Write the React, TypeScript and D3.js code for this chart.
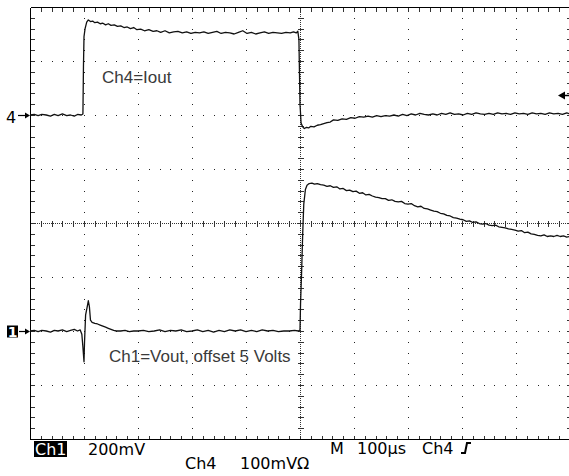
import React from "react";
import * as d3 from "d3";

// Oscilloscope screen: 10 horizontal x 8 vertical divisions
const xDivisions = [0, 10];
const yDivisions = [-4, 4];

// Ch4 = Iout trace, [time div, screen div]
const ch4: [number, number][] = [
  [0, 2.0], [0.08, 2.01], [0.15, 1.99], [0.22, 2.01], [0.3, 2.0], [0.38, 1.98], [0.45, 2.01], [0.52, 1.99],
  [0.6, 2.02], [0.68, 1.99], [0.75, 2.0], [0.82, 1.98], [0.88, 2.01], [0.95, 2.0], [0.98, 2.02], [0.99, 2.9],
  [1.0, 3.45], [1.02, 3.6], [1.05, 3.72], [1.08, 3.76], [1.12, 3.73], [1.16, 3.74], [1.2, 3.71], [1.25, 3.72],
  [1.3, 3.69], [1.35, 3.7], [1.4, 3.67], [1.45, 3.69], [1.5, 3.66], [1.56, 3.67], [1.62, 3.64], [1.68, 3.65],
  [1.74, 3.62], [1.8, 3.63], [1.86, 3.6], [1.92, 3.62], [1.98, 3.58], [2.05, 3.59], [2.12, 3.56], [2.2, 3.58],
  [2.28, 3.55], [2.35, 3.56], [2.42, 3.53], [2.5, 3.56], [2.58, 3.52], [2.66, 3.54], [2.74, 3.55], [2.82, 3.52],
  [2.9, 3.54], [2.98, 3.51], [3.06, 3.53], [3.14, 3.52], [3.22, 3.54], [3.3, 3.51], [3.38, 3.53], [3.46, 3.55],
  [3.54, 3.51], [3.62, 3.53], [3.7, 3.52], [3.78, 3.5], [3.86, 3.53], [3.94, 3.56], [4.02, 3.51], [4.1, 3.53],
  [4.18, 3.5], [4.26, 3.52], [4.34, 3.54], [4.42, 3.51], [4.5, 3.53], [4.58, 3.52], [4.66, 3.51], [4.74, 3.53],
  [4.82, 3.52], [4.88, 3.54], [4.93, 3.52], [4.96, 3.55], [4.98, 3.4], [4.99, 2.8], [5.0, 2.2], [5.02, 1.85],
  [5.05, 1.78], [5.08, 1.75], [5.12, 1.77], [5.16, 1.76], [5.2, 1.79], [5.26, 1.78], [5.32, 1.81], [5.38, 1.82],
  [5.44, 1.84], [5.5, 1.86], [5.56, 1.87], [5.62, 1.91], [5.7, 1.9], [5.78, 1.93], [5.86, 1.92], [5.94, 1.95],
  [6.02, 1.94], [6.1, 1.97], [6.18, 1.96], [6.26, 1.98], [6.34, 1.96], [6.42, 1.99], [6.5, 1.97], [6.58, 1.99],
  [6.66, 1.98], [6.74, 2.0], [6.82, 1.98], [6.9, 2.01], [6.98, 1.99], [7.06, 2.02], [7.14, 2.0], [7.22, 2.03],
  [7.3, 2.01], [7.38, 2.0], [7.46, 2.02], [7.54, 2.0], [7.62, 2.03], [7.7, 2.01], [7.78, 2.04], [7.86, 2.01],
  [7.94, 2.02], [8.02, 2.0], [8.1, 2.03], [8.18, 2.01], [8.26, 2.04], [8.34, 2.02], [8.42, 2.01], [8.5, 2.03],
  [8.58, 2.01], [8.66, 2.04], [8.74, 2.02], [8.82, 2.03], [8.9, 2.01], [8.98, 2.04], [9.06, 2.02], [9.14, 2.03],
  [9.22, 2.01], [9.3, 2.04], [9.38, 2.02], [9.46, 2.03], [9.54, 2.01], [9.62, 2.04], [9.7, 2.02], [9.78, 2.03],
  [9.86, 2.01], [9.94, 2.04], [10, 2.02],
];

// Ch1 = Vout trace, [time div, screen div]
const ch1: [number, number][] = [
  [0, -2.0], [0.08, -1.99], [0.15, -2.01], [0.22, -1.99], [0.3, -2.0], [0.38, -2.02], [0.45, -1.99], [0.52, -2.0],
  [0.6, -1.98], [0.68, -2.01], [0.75, -1.99], [0.82, -1.97], [0.88, -2.0], [0.93, -1.98], [0.96, -2.06], [0.98, -2.3],
  [1.0, -2.57], [1.01, -2.2], [1.03, -1.7], [1.06, -1.55], [1.08, -1.44], [1.1, -1.55], [1.12, -1.8], [1.15, -1.84],
  [1.2, -1.86], [1.25, -1.87], [1.3, -1.89], [1.35, -1.91], [1.4, -1.93], [1.45, -1.95], [1.5, -1.97], [1.55, -1.99],
  [1.6, -2.0], [1.68, -2.0], [1.76, -1.99], [1.84, -2.01], [1.92, -2.0], [2.0, -2.0], [2.1, -1.99], [2.2, -2.01],
  [2.3, -2.0], [2.4, -1.98], [2.5, -2.01], [2.6, -1.99], [2.7, -2.0], [2.8, -1.98], [2.9, -2.01], [3.0, -2.0],
  [3.1, -1.98], [3.2, -2.01], [3.3, -1.99], [3.4, -2.02], [3.5, -1.99], [3.6, -2.01], [3.7, -1.98], [3.8, -2.0],
  [3.9, -1.98], [4.0, -2.01], [4.1, -1.99], [4.2, -2.01], [4.3, -1.98], [4.4, -2.0], [4.5, -1.99], [4.6, -2.01],
  [4.7, -2.0], [4.8, -2.0], [4.9, -1.99], [4.97, -2.0], [5.0, -1.98], [5.01, -1.5], [5.03, -0.9], [5.05, -0.2],
  [5.07, 0.35], [5.1, 0.62], [5.13, 0.7], [5.17, 0.73], [5.22, 0.74], [5.27, 0.72], [5.32, 0.73], [5.38, 0.71],
  [5.44, 0.7], [5.5, 0.68], [5.56, 0.69], [5.62, 0.66], [5.68, 0.67], [5.74, 0.63], [5.8, 0.64], [5.86, 0.6],
  [5.92, 0.61], [5.98, 0.58], [6.04, 0.59], [6.1, 0.55], [6.16, 0.56], [6.22, 0.52], [6.28, 0.53], [6.34, 0.5],
  [6.4, 0.48], [6.46, 0.47], [6.52, 0.45], [6.58, 0.45], [6.64, 0.42], [6.7, 0.43], [6.76, 0.4], [6.82, 0.39],
  [6.88, 0.4], [6.94, 0.36], [7.0, 0.35], [7.06, 0.36], [7.12, 0.32], [7.18, 0.3], [7.24, 0.31], [7.3, 0.27],
  [7.36, 0.26], [7.42, 0.24], [7.48, 0.22], [7.54, 0.21], [7.6, 0.18], [7.66, 0.17], [7.72, 0.14], [7.78, 0.13],
  [7.84, 0.1], [7.9, 0.09], [7.96, 0.07], [8.02, 0.06], [8.08, 0.03], [8.14, 0.04], [8.2, 0.01], [8.26, 0.02],
  [8.32, -0.01], [8.38, -0.02], [8.44, -0.01], [8.5, -0.04], [8.56, -0.05], [8.62, -0.04], [8.68, -0.07], [8.74, -0.08],
  [8.8, -0.09], [8.86, -0.11], [8.92, -0.12], [8.98, -0.13], [9.04, -0.15], [9.1, -0.14], [9.16, -0.18], [9.22, -0.17],
  [9.28, -0.2], [9.34, -0.21], [9.4, -0.23], [9.46, -0.24], [9.52, -0.22], [9.58, -0.25], [9.64, -0.24], [9.7, -0.25],
  [9.76, -0.23], [9.82, -0.25], [9.88, -0.24], [9.94, -0.26], [10, -0.25],
];

const ch4Level = 2; // ground marker of Ch4
const ch1Level = -2; // ground marker of Ch1
const triggerLevel = 2.37;

const ch4Label = "Ch4=Iout";
const ch1Label = "Ch1=Vout, offset 5 Volts";
const ch1Scale = "200mV";
const ch4Scale = "100mVΩ";
const timeBase = "100µs";

export default function App() {
  const W = 569;
  const H = 476;
  const x = d3.scaleLinear().domain(xDivisions).range([30, 570]);
  const y = d3.scaleLinear().domain(yDivisions).range([439, 7]);

  const line = d3
    .line<[number, number]>()
    .x((d) => x(d[0]))
    .y((d) => y(d[1]));

  const majorX = d3.range(1, 10);
  const majorY = d3.range(-3, 4);
  const minorX = d3.range(0, 10.001, 0.2);
  const minorY = d3.range(-4, 4.001, 0.2);

  const dots: React.ReactNode[] = [];
  majorX.forEach((mx) => {
    if (mx === 5) return;
    minorY.forEach((my, i) => {
      if (i === 0 || i === minorY.length - 1) return;
      dots.push(<rect key={`vx${mx}-${i}`} x={Math.round(x(mx))} y={Math.round(y(my))} width={1} height={1} fill="#222" />);
    });
  });
  majorY.forEach((my) => {
    if (my === 0) return;
    minorX.forEach((mx, i) => {
      if (i === 0 || i === minorX.length - 1) return;
      dots.push(<rect key={`hy${my}-${i}`} x={Math.round(x(mx))} y={Math.round(y(my))} width={1} height={1} fill="#222" />);
    });
  });

  const cx = Math.round(x(5)) + 0.5;
  const cy = Math.round(y(0)) + 0.5;
  const left = Math.round(x(0)) + 0.5;
  const right = Math.round(x(10)) + 0.5;
  const top = Math.round(y(4)) + 0.5;
  const bottom = Math.round(y(-4)) + 0.5;

  const ticks: React.ReactNode[] = [];
  minorX.forEach((mx, i) => {
    const px = Math.round(x(mx)) + 0.5;
    ticks.push(<line key={`tt${i}`} x1={px} x2={px} y1={top} y2={top + 4} />);
    ticks.push(<line key={`tb${i}`} x1={px} x2={px} y1={bottom} y2={bottom - 4} />);
    ticks.push(<line key={`tc${i}`} x1={px} x2={px} y1={cy - 3} y2={cy + 3} />);
  });
  minorY.forEach((my, i) => {
    const py = Math.round(y(my)) + 0.5;
    ticks.push(<line key={`tl${i}`} x1={left} x2={left + 4} y1={py} y2={py} />);
    ticks.push(<line key={`tr${i}`} x1={right} x2={right - 4} y1={py} y2={py} />);
    ticks.push(<line key={`tcv${i}`} x1={cx - 3} x2={cx + 3} y1={py} y2={py} />);
  });

  const scopeFont = "'DejaVu Sans', sans-serif";
  const labelFont = "'Liberation Sans', Arial, sans-serif";

  const y4 = Math.round(y(ch4Level)) + 0.5;
  const y1 = Math.round(y(ch1Level)) + 0.5;
  const yt = Math.round(y(triggerLevel)) + 0.5;

  return (
    <svg width={W} height={H} style={{ position: "absolute", left: 0, top: 0, background: "#fff" }}>
      <rect x={0} y={0} width={W} height={H} fill="#fff" />
      {dots}
      <g stroke="#333" strokeWidth={1} shapeRendering="crispEdges">
        <line x1={cx} x2={cx} y1={top} y2={bottom} strokeDasharray="1,1" />
        <line x1={left} x2={right} y1={cy} y2={cy} strokeDasharray="1,1" />
        {ticks}
      </g>
      <g stroke="#000" strokeWidth={1.2} shapeRendering="crispEdges">
        <line x1={left} x2={left} y1={top} y2={bottom} />
        <line x1={left} x2={right} y1={top} y2={top} />
        <line x1={left} x2={right} y1={bottom} y2={bottom} />
      </g>

      <path d={line(ch4) || ""} fill="none" stroke="#111" strokeWidth={1.3} strokeLinejoin="round" />
      <path d={line(ch1) || ""} fill="none" stroke="#111" strokeWidth={1.3} strokeLinejoin="round" />

      <text x={102} y={83} fontFamily={labelFont} fontSize={17} fill="#3a3a3a">{ch4Label}</text>
      <text x={109} y={362} fontFamily={labelFont} fontSize={17} fill="#3a3a3a">{ch1Label}</text>

      {/* Ch4 marker */}
      <text x={6} y={123} fontFamily={scopeFont} fontSize={16} fill="#000">4</text>
      <line x1={18} x2={27} y1={y4} y2={y4} stroke="#000" strokeWidth={1.2} />
      <path d={`M30,${y4} L25,${y4 - 3} L25,${y4 + 3} Z`} fill="#000" />

      {/* Ch1 marker */}
      <rect x={7} y={y1 - 6} width={11} height={12} fill="#000" />
      <text x={12.5} y={y1 + 5} fontFamily={scopeFont} fontSize={14} fontWeight="bold" fill="#fff" textAnchor="middle">1</text>
      <line x1={19} x2={27} y1={y1} y2={y1} stroke="#000" strokeWidth={1.2} />
      <path d={`M30,${y1} L25,${y1 - 3} L25,${y1 + 3} Z`} fill="#000" />

      {/* Trigger level arrow */}
      <path d={`M558,${yt} L565,${yt - 4} L565,${yt + 4} Z`} fill="#000" />
      <line x1={564} x2={569} y1={yt} y2={yt} stroke="#000" strokeWidth={1.5} />

      {/* Bottom readouts */}
      <rect x={34} y={441} width={33} height={16} fill="#000" />
      <text x={35} y={455} fontFamily={scopeFont} fontSize={16} fill="#fff">Ch1</text>
      <text x={88} y={455} fontFamily={scopeFont} fontSize={16} fill="#000">{ch1Scale}</text>
      <text x={330} y={454} fontFamily={scopeFont} fontSize={16} fill="#000">M</text>
      <text x={357} y={454} fontFamily={scopeFont} fontSize={16} fill="#000">{timeBase}</text>
      <text x={422} y={454} fontFamily={scopeFont} fontSize={16} fill="#000">Ch4</text>
      <path d="M461,453 L465,453 L467,443 L471,443" fill="none" stroke="#000" strokeWidth={2} />
      <text x={185} y={469} fontFamily={scopeFont} fontSize={16} fill="#000">Ch4</text>
      <text x={240} y={469} fontFamily={scopeFont} fontSize={16} fill="#000">{ch4Scale}</text>
    </svg>
  );
}
